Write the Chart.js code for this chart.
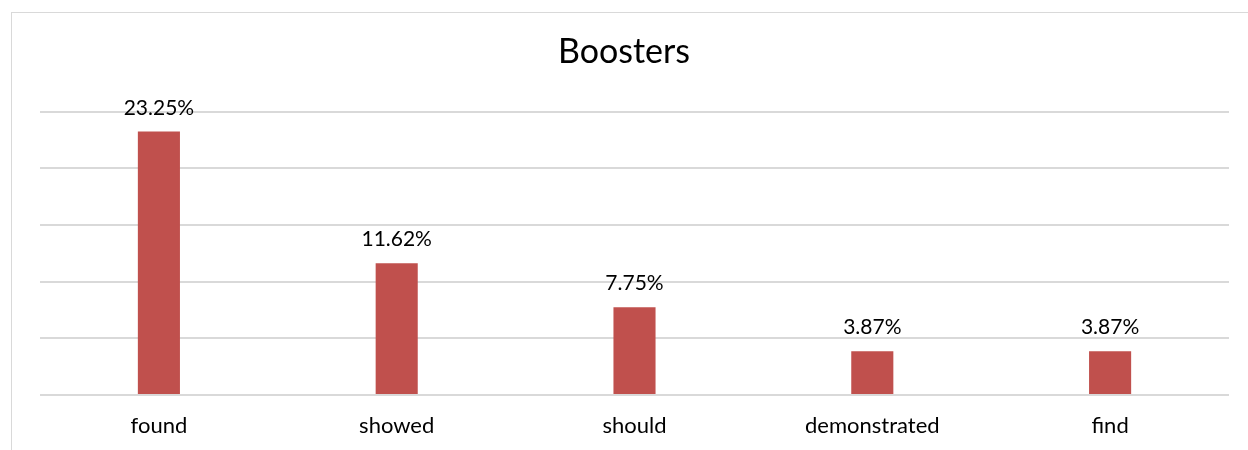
<!DOCTYPE html>
<html>
  <head>
    <meta charset="utf-8">
    <script src="https://cdn.jsdelivr.net/npm/chart.js@4.4.1/dist/chart.umd.min.js"></script>
    <title>Boosters</title>
    <style>
      html, body {
        margin: 0;
        padding: 0;
        background: #ffffff;
      }
      #wrap {
        position: relative;
        width: 1248px;
        height: 450px;
        overflow: hidden;
      }
      #frame {
        position: absolute;
        left: 11px;
        top: 12px;
        width: 1260px;
        height: 460px;
        border: 1px solid #d9d9d9;
        box-sizing: border-box;
      }
      #chart {
        position: absolute;
        left: 0;
        top: 0;
      }
    </style>
  </head>
  <body>
    <div id="wrap">
      <div id="frame"></div>
      <canvas id="chart" width="1248" height="450"></canvas>
    </div>

    <script>
      var categories = ["found", "showed", "should", "demonstrated", "find"];
      var shares = [23.25, 11.62, 7.75, 3.87, 3.87];
      var yTicks = [0, 5, 10, 15, 20, 25];

      var FONT = "Lato, 'Open Sans', sans-serif";

      // percentage labels above each bar
      var valueLabels = {
        id: 'valueLabels',
        afterDatasetsDraw: function(chart) {
          var ctx = chart.ctx;
          var meta = chart.getDatasetMeta(0);
          ctx.save();
          ctx.font = "21px " + FONT;
          ctx.fillStyle = "#000000";
          ctx.textAlign = "center";
          ctx.textBaseline = "alphabetic";
          meta.data.forEach(function(bar, i) {
            ctx.fillText(shares[i].toFixed(2) + "%", bar.x, bar.y - 17);
          });
          ctx.restore();
        }
      };

      new Chart(document.getElementById("chart"), {
        type: 'bar',
        data: {
          labels: categories,
          datasets: [{
            data: shares,
            backgroundColor: "#c0504d",
            borderWidth: 0,
            barPercentage: 0.177,
            categoryPercentage: 1.0
          }]
        },
        options: {
          responsive: false,
          animation: false,
          layout: {
            padding: { left: 19, right: 19, top: 0, bottom: 12 }
          },
          plugins: {
            legend: { display: false },
            tooltip: { enabled: false },
            title: {
              display: true,
              text: "Boosters",
              color: "#000000",
              font: { family: FONT, size: 34, weight: 'normal' },
              padding: { top: 32, bottom: 39 }
            }
          },
          scales: {
            x: {
              grid: { display: false },
              border: { display: false },
              afterFit: function(axis) {
                axis.height = 43;
              },
              ticks: {
                color: "#000000",
                font: { family: FONT, size: 22 },
                padding: 10,
                maxRotation: 0
              }
            },
            y: {
              min: 0,
              max: 25,
              afterBuildTicks: function(axis) {
                axis.ticks = yTicks.map(function(v) { return { value: v }; });
              },
              afterFit: function(axis) {
                axis.width = 21;
              },
              grid: {
                color: "#d9d9d9",
                lineWidth: 2,
                drawTicks: false
              },
              border: { display: false },
              ticks: { display: false }
            }
          }
        },
        plugins: [valueLabels]
      });
    </script>
  </body>
</html>
